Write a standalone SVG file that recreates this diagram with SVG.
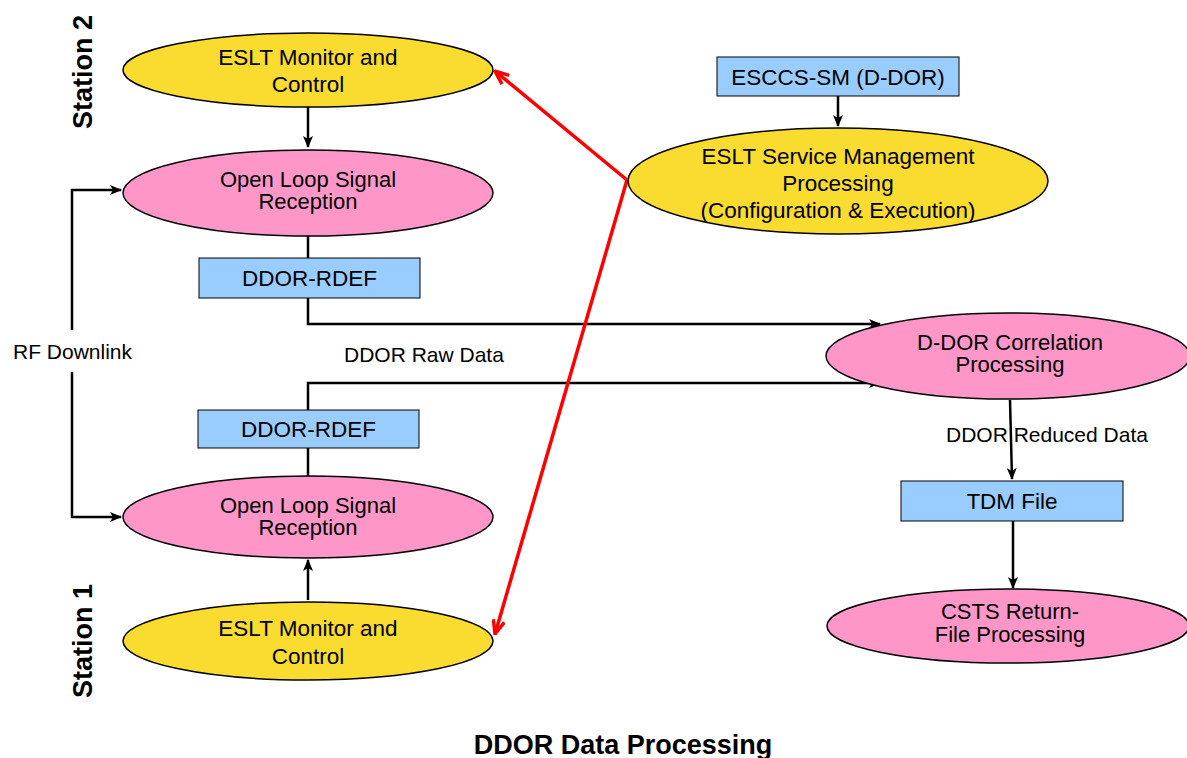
<svg xmlns="http://www.w3.org/2000/svg" width="1187" height="758" viewBox="0 0 1187 758">
<style>
text{font-family:"Liberation Sans",Arial,sans-serif;fill:#000}
.n{font-size:22.5px;text-anchor:middle}
.t{font-size:22px;text-anchor:middle}
.l{font-size:21px}
.y{fill:#f9dc2f;stroke:#000;stroke-width:1.5}
.p{fill:#fe97c8;stroke:#000;stroke-width:1.5}
.b{fill:#99ccff;stroke:#000;stroke-width:1}
.c{fill:none;stroke:#000;stroke-width:2.5}
.r{fill:none;stroke:#f00;stroke-width:3.5}
.st{font-size:27px;font-weight:bold;text-anchor:middle}
</style>
<defs>
<marker id="a" viewBox="0 0 12 10" refX="11" refY="5" markerWidth="12" markerHeight="10" markerUnits="userSpaceOnUse" orient="auto">
<path d="M0,0 L12,5 L0,10 L3,5 z" fill="#000"/>
</marker>
<marker id="ra" viewBox="0 0 14 12" refX="13" refY="6" markerWidth="16" markerHeight="14" markerUnits="userSpaceOnUse" orient="auto">
<path d="M1,1 L13,6 L1,11" fill="none" stroke="#f00" stroke-width="3"/>
</marker>
</defs>
<g id="connectors">
<line class="c" x1="308" y1="107" x2="308" y2="147" marker-end="url(#a)"/>
<line class="c" x1="308" y1="236" x2="308" y2="258"/>
<polyline class="c" points="308,298 308,324 880,324" marker-end="url(#a)"/>
<polyline class="c" points="308,410 308,383 880,383" marker-end="url(#a)"/>
<line class="c" x1="308" y1="448" x2="308" y2="477"/>
<line class="c" x1="308" y1="600" x2="308" y2="560" marker-end="url(#a)"/>
<polyline class="c" points="72,330 72,190 121,190" marker-end="url(#a)"/>
<polyline class="c" points="72,372 72,517 121,517" marker-end="url(#a)"/>
<line class="c" x1="838" y1="96" x2="838" y2="126" marker-end="url(#a)"/>
<line class="c" x1="1010" y1="400" x2="1012" y2="479" marker-end="url(#a)"/>
<line class="c" x1="1013" y1="521" x2="1013" y2="588" marker-end="url(#a)"/>
<line class="r" x1="627" y1="180" x2="495" y2="71" marker-end="url(#ra)"/>
<line class="r" x1="627" y1="180" x2="495" y2="634" marker-end="url(#ra)"/>
</g>
<g id="station2-monitor"><ellipse class="y" cx="308" cy="70" rx="185" ry="37"/><text class="n" x="308" y="65">ESLT Monitor and</text><text class="n" x="308" y="92">Control</text></g>
<g id="station2-olsr"><ellipse class="p" cx="308" cy="193" rx="185" ry="43"/><text class="t" x="308" y="187">Open Loop Signal</text><text class="t" x="308" y="209">Reception</text></g>
<g id="rdef-top"><rect class="b" x="199" y="258" width="221" height="40"/><text class="n" x="309.5" y="286">DDOR-RDEF</text></g>
<g id="rdef-bottom"><rect class="b" x="198" y="410" width="221" height="38"/><text class="n" x="308.5" y="437">DDOR-RDEF</text></g>
<g id="station1-olsr"><ellipse class="p" cx="308" cy="517" rx="185" ry="41"/><text class="t" x="308" y="513">Open Loop Signal</text><text class="t" x="308" y="535">Reception</text></g>
<g id="station1-monitor"><ellipse class="y" cx="308" cy="641" rx="185" ry="39"/><text class="n" x="308" y="636">ESLT Monitor and</text><text class="n" x="308" y="664">Control</text></g>
<g id="esccs"><rect class="b" x="717" y="57" width="242" height="39"/><text class="n" x="838" y="85">ESCCS-SM (D-DOR)</text></g>
<g id="service-mgmt"><ellipse class="y" cx="838" cy="181" rx="210" ry="53"/><text class="n" x="838" y="164">ESLT Service Management</text><text class="n" x="838" y="191">Processing</text><text class="n" x="838" y="218">(Configuration &amp; Execution)</text></g>
<g id="correlation"><ellipse class="p" cx="1008" cy="356" rx="182" ry="43"/><text class="t" x="1010" y="350">D-DOR Correlation</text><text class="t" x="1010" y="372">Processing</text></g>
<g id="tdm"><rect class="b" x="901" y="481" width="222" height="40"/><text class="n" x="1012" y="509">TDM File</text></g>
<g id="csts"><ellipse class="p" cx="1008" cy="626" rx="181" ry="37"/><text class="t" x="1010" y="619">CSTS Return-</text><text class="t" x="1010" y="642">File Processing</text></g>
<g id="labels">
<text class="l" x="13" y="359">RF Downlink</text>
<text class="l" x="344" y="362">DDOR Raw Data</text>
<text class="l" x="946" y="442">DDOR Reduced Data</text>
<text class="st" transform="translate(92,72) rotate(-90)">Station 2</text>
<text class="st" transform="translate(92,641) rotate(-90)">Station 1</text>
<text x="623" y="754" style="font-size:27px;font-weight:bold;text-anchor:middle">DDOR Data Processing</text>
</g>
</svg>
